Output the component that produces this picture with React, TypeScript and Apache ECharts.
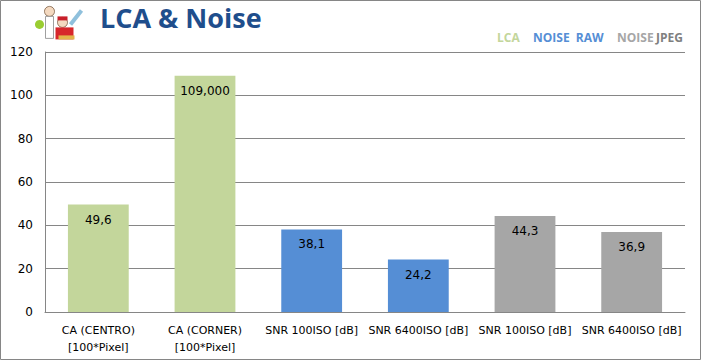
import React, { useEffect, useRef } from "react";
import * as echarts from "echarts";

const categories = [
  "CA (CENTRO)\n[100*Pixel]",
  "CA (CORNER)\n[100*Pixel]",
  "SNR 100ISO [dB]",
  "SNR 6400ISO [dB]",
  "SNR 100ISO [dB]",
  "SNR 6400ISO [dB]",
];
const values = [49.6, 109, 38.1, 24.2, 44.3, 36.9];
const valueLabels = ["49,6", "109,000", "38,1", "24,2", "44,3", "36,9"];
const groupOfBar = ["LCA", "LCA", "RAW", "RAW", "JPEG", "JPEG"];
const groupColors: Record<string, string> = {
  LCA: "#C3D69B",
  RAW: "#558ED5",
  JPEG: "#A6A6A6",
};
const yTicks = { min: 0, max: 120, interval: 20 };

export default function App() {
  const ref = useRef<HTMLDivElement>(null);
  useEffect(() => {
    document.body.style.margin = "0";
    const chart = echarts.init(ref.current!, null, { renderer: "svg" });
    const font = "Tahoma, Verdana, 'DejaVu Sans', sans-serif";
    chart.setOption({
      animation: false,
      backgroundColor: "#fff",
      grid: { left: 45, right: 17, top: 52, bottom: 49 },
      xAxis: {
        type: "category",
        data: categories,
        axisTick: { show: false },
        axisLine: { lineStyle: { color: "#868686", width: 1 } },
        axisLabel: {
          color: "#000",
          fontSize: 11,
          fontFamily: font,
          lineHeight: 17,
          margin: 10,
          interval: 0,
        },
      },
      yAxis: {
        type: "value",
        min: yTicks.min,
        max: yTicks.max,
        interval: yTicks.interval,
        axisLine: { show: true, lineStyle: { color: "#868686" } },
        axisTick: { show: false },
        splitLine: { lineStyle: { color: "#868686", width: 1 } },
        axisLabel: { color: "#000", fontSize: 12, fontFamily: font, margin: 12 },
      },
      series: [
        {
          type: "bar",
          barWidth: "57%",
          data: values.map((v, i) => ({
            value: v,
            itemStyle: { color: groupColors[groupOfBar[i]] },
          })),
          label: {
            show: true,
            position: "insideTop",
            distance: 9,
            color: "#000",
            fontSize: 12,
            fontFamily: font,
            formatter: (p: any) => valueLabels[p.dataIndex],
          },
        },
      ],
      graphic: [
        {
          type: "rect",
          shape: { x: 0.5, y: 0.5, width: 700, height: 359 },
          style: { fill: "none", stroke: "#868686", lineWidth: 1 },
          silent: true,
        },
        {
          type: "text",
          left: 100,
          top: 4,
          style: {
            text: "LCA & Noise",
            fill: "#1F4E8C",
            font: "bold 27px 'Open Sans', sans-serif",
          },
        },
        {
          type: "group",
          left: 35,
          top: 6,
          children: [
            { type: "circle", shape: { cx: 15, cy: 7, r: 5 }, style: { fill: "#F4D9C0", stroke: "#7a5a40", lineWidth: 0.8 } },
            { type: "rect", shape: { x: 11, y: 12, width: 8, height: 22 }, style: { fill: "#fff", stroke: "#888", lineWidth: 0.8 } },
            { type: "circle", shape: { cx: 5, cy: 20, r: 4.5 }, style: { fill: "#9ACD32" } },
            { type: "circle", shape: { cx: 28, cy: 18, r: 5 }, style: { fill: "#F4D9C0", stroke: "#7a5a40", lineWidth: 0.8 } },
            { type: "rect", shape: { x: 23, y: 12, width: 10, height: 4 }, style: { fill: "#C8202A" } },
            { type: "rect", shape: { x: 21, y: 23, width: 18, height: 12 }, style: { fill: "#D7262B" } },
            { type: "rect", shape: { x: 24, y: 31, width: 16, height: 4 }, style: { fill: "#E2B34A" } },
            { type: "line", shape: { x1: 36, y1: 20, x2: 47, y2: 6 }, style: { stroke: "#8fc0dc", lineWidth: 4 } },
          ],
        },
        {
          type: "text",
          left: 497,
          top: 31,
          style: { text: "LCA", fill: "#C3D69B", font: "bold 12px 'Open Sans', sans-serif" },
        },
        {
          type: "text",
          left: 533,
          top: 31,
          style: { text: "NOISE  RAW", fill: "#558ED5", font: "bold 12px 'Open Sans', sans-serif" },
        },
        {
          type: "text",
          left: 617,
          top: 31,
          style: { text: "NOISE", fill: "#A6A6A6", font: "bold 12px 'Open Sans', sans-serif" },
        },
        {
          type: "text",
          left: 656,
          top: 31,
          style: { text: "JPEG", fill: "#7F7F7F", font: "bold 12px 'Open Sans', sans-serif" },
        },
      ],
    });
    return () => chart.dispose();
  }, []);
  return <div ref={ref} style={{ width: 702, height: 361 }} />;
}
